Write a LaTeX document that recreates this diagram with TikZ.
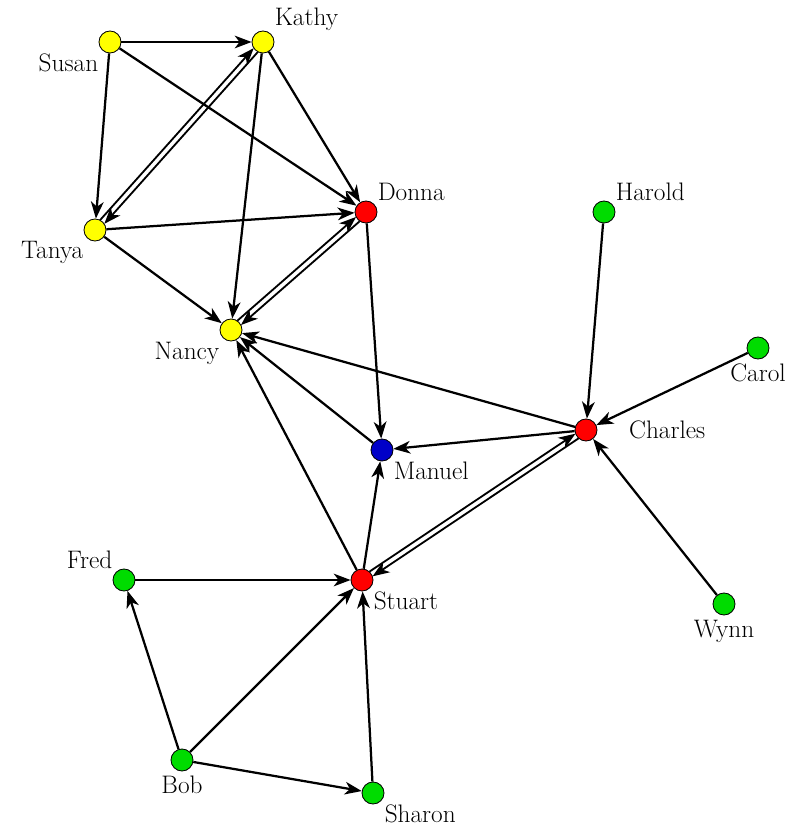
\documentclass[tikz,border=0pt]{standalone}
\usetikzlibrary{arrows.meta, calc}
\definecolor{vyellow}{RGB}{255,255,0}
\definecolor{vred}{RGB}{255,0,0}
\definecolor{vblue}{RGB}{0,0,200}
\definecolor{vgreen}{RGB}{0,220,0}

\begin{document}
\begin{tikzpicture}[x=0.025cm, y=-0.025cm,
    person/.style={circle, draw=black, line width=0.6pt, minimum size=0.55cm, inner sep=0pt},
    lbl/.style={font=\fontsize{18}{21}\selectfont, inner sep=1pt},
    edge/.style={-{Stealth[length=12pt,width=9pt,inset=3.5pt]}, line width=1.6pt},
    twin/.style={edge, line width=1.3pt, shorten >=0.27cm, shorten <=0.27cm},
    label distance=2pt]
    \useasboundingbox (0,0) rectangle (794,827);

    % People
    \node[person, fill=vyellow, label={[lbl]below left:Susan}] (Susan) at (110,42) {};
    \node[person, fill=vyellow, label={[lbl]above right:Kathy}] (Kathy) at (263,42) {};
    \node[person, fill=vyellow, label={[lbl]below left:Tanya}] (Tanya) at (95,230) {};
    \node[person, fill=vred, label={[lbl]above right:Donna}] (Donna) at (366,212) {};
    \node[person, fill=vgreen, label={[lbl]above right:Harold}] (Harold) at (604,212) {};
    \node[person, fill=vyellow, label={[lbl]below left:Nancy}] (Nancy) at (231,330) {};
    \node[person, fill=vgreen, label={[lbl]below:Carol}] (Carol) at (758,348) {};
    \node[person, fill=vred, label={[lbl, label distance=0.75cm]right:Charles}] (Charles) at (586,430) {};
    \node[person, fill=vblue, label={[lbl]below right:Manuel}] (Manuel) at (382,450) {};
    \node[person, fill=vgreen, label={[lbl]above left:Fred}] (Fred) at (124,580) {};
    \node[person, fill=vred, label={[lbl]below right:Stuart}] (Stuart) at (362,580) {};
    \node[person, fill=vgreen, label={[lbl]below:Wynn}] (Wynn) at (724,604) {};
    \node[person, fill=vgreen, label={[lbl]below:Bob}] (Bob) at (182,760) {};
    \node[person, fill=vgreen, label={[lbl]below right:Sharon}] (Sharon) at (373,793) {};

    % Single ties
    \draw[edge] (Susan) -- (Kathy);
    \draw[edge] (Susan) -- (Tanya);
    \draw[edge] (Susan) -- (Donna);
    \draw[edge] (Kathy) -- (Donna);
    \draw[edge] (Kathy) -- (Nancy);
    \draw[edge] (Tanya) -- (Donna);
    \draw[edge] (Tanya) -- (Nancy);
    \draw[edge] (Donna) -- (Manuel);
    \draw[edge] (Harold) -- (Charles);
    \draw[edge] (Carol) -- (Charles);
    \draw[edge] (Wynn) -- (Charles);
    \draw[edge] (Charles) -- (Nancy);
    \draw[edge] (Charles) -- (Manuel);
    \draw[edge] (Manuel) -- (Nancy);
    \draw[edge] (Stuart) -- (Nancy);
    \draw[edge] (Stuart) -- (Manuel);
    \draw[edge] (Fred) -- (Stuart);
    \draw[edge] (Bob) -- (Fred);
    \draw[edge] (Bob) -- (Stuart);
    \draw[edge] (Bob) -- (Sharon);
    \draw[edge] (Sharon) -- (Stuart);

    % Mutual ties
    \draw[twin] ($(Kathy)!2pt!90:(Tanya)$) -- ($(Tanya)!2pt!-90:(Kathy)$);
    \draw[twin] ($(Tanya)!2pt!90:(Kathy)$) -- ($(Kathy)!2pt!-90:(Tanya)$);
    \draw[twin] ($(Donna)!2pt!90:(Nancy)$) -- ($(Nancy)!2pt!-90:(Donna)$);
    \draw[twin] ($(Nancy)!2pt!90:(Donna)$) -- ($(Donna)!2pt!-90:(Nancy)$);
    \draw[twin] ($(Charles)!2pt!90:(Stuart)$) -- ($(Stuart)!2pt!-90:(Charles)$);
    \draw[twin] ($(Stuart)!2pt!90:(Charles)$) -- ($(Charles)!2pt!-90:(Stuart)$);
\end{tikzpicture}
\end{document}
